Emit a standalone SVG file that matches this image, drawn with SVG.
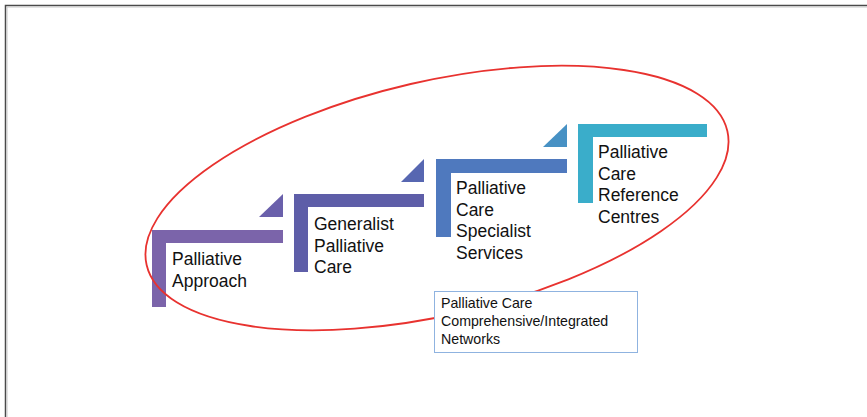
<svg xmlns="http://www.w3.org/2000/svg" width="867" height="417" viewBox="0 0 867 417">
  <style>
    .lbl { font-family: "Liberation Sans", Arial, sans-serif; font-size: 17.5px; fill: #111; }
    .box { font-family: "Liberation Sans", Arial, sans-serif; font-size: 14.2px; fill: #111; }
  </style>
  <rect x="0" y="0" width="867" height="417" fill="#ffffff"/>
  <g id="frame">
    <path d="M5.5,417 V5.5 H867" fill="none" stroke="#4a4a4a" stroke-width="1.5"/>
    <path d="M7,417 V7 H867" fill="none" stroke="#c8c8c8" stroke-width="1"/>
  </g>
  <g id="step1">
    <path d="M152,230 H283 V243 H166 V307 H152 Z" fill="#7b64aa"/>
    <text class="lbl" x="172" y="265">Palliative</text>
    <text class="lbl" x="172" y="286.5">Approach</text>
  </g>
  <g id="step2">
    <polygon points="259,217 283,194 283,217" fill="#6a60ab"/>
    <path d="M294,194 H424 V207 H308 V272 H294 Z" fill="#5e5ea8"/>
    <text class="lbl" x="314" y="230">Generalist</text>
    <text class="lbl" x="314" y="251.5">Palliative</text>
    <text class="lbl" x="314" y="273">Care</text>
  </g>
  <g id="step3">
    <polygon points="401,182 424,159 424,182" fill="#5767b1"/>
    <path d="M436,159 H567 V173 H451 V237 H436 Z" fill="#4f79be"/>
    <text class="lbl" x="456" y="194">Palliative</text>
    <text class="lbl" x="456" y="215.5">Care</text>
    <text class="lbl" x="456" y="237">Specialist</text>
    <text class="lbl" x="456" y="258.5">Services</text>
  </g>
  <g id="step4">
    <polygon points="543,147 567,124 567,147" fill="#4791c4"/>
    <path d="M578,124 H707 V137 H593 V203 H578 Z" fill="#3aadca"/>
    <text class="lbl" x="598" y="158">Palliative</text>
    <text class="lbl" x="598" y="179.5">Care</text>
    <text class="lbl" x="598" y="201">Reference</text>
    <text class="lbl" x="598" y="222.5">Centres</text>
  </g>
  <g id="connectors">
    <ellipse cx="437" cy="198" rx="298" ry="117" transform="rotate(-13 437 198)" fill="none" stroke="#e8322f" stroke-width="1.8"/>
  </g>
  <g id="network">
    <rect x="434.5" y="291.5" width="203" height="61" fill="#ffffff" stroke="#8fb3e0" stroke-width="1"/>
    <text class="box" x="441" y="308">Palliative Care</text>
    <text class="box" x="441" y="326">Comprehensive/Integrated</text>
    <text class="box" x="441" y="344">Networks</text>
  </g>
</svg>
